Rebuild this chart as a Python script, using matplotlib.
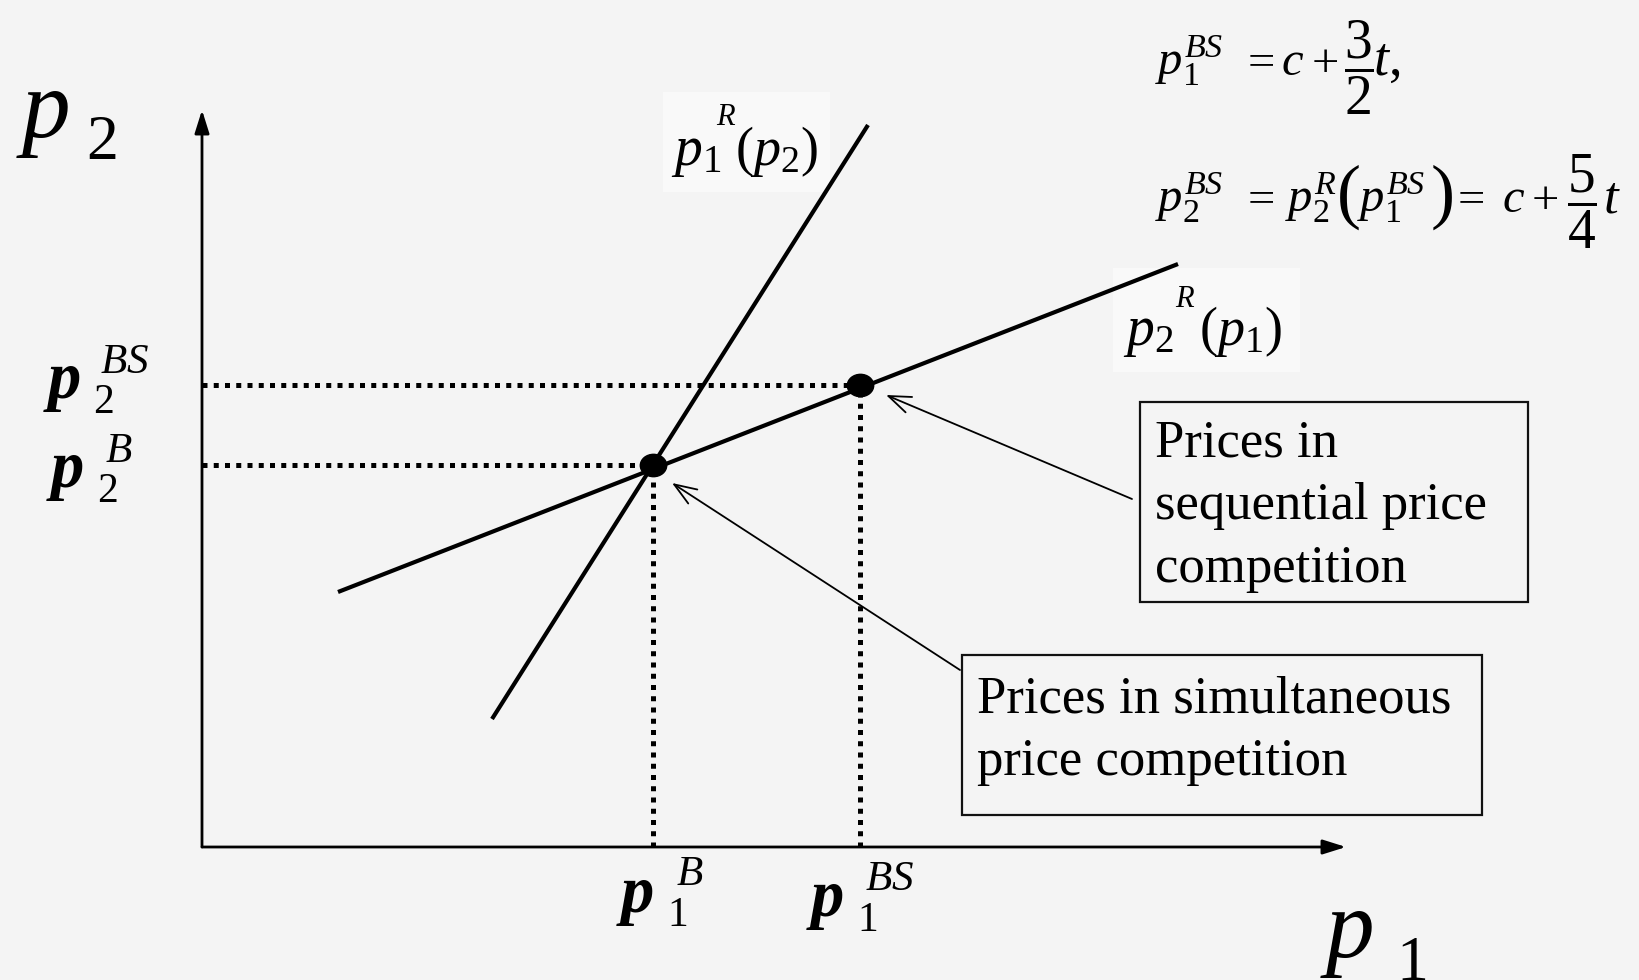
import matplotlib
matplotlib.use("Agg")
import matplotlib.pyplot as plt
from matplotlib.patches import Rectangle
from matplotlib.path import Path
from matplotlib.transforms import Affine2D

plt.rcParams['font.family'] = ['Liberation Serif', 'DejaVu Serif']
plt.rcParams['mathtext.fontset'] = 'custom'
plt.rcParams['mathtext.rm'] = 'Liberation Serif'
plt.rcParams['mathtext.it'] = 'Liberation Serif:italic'
plt.rcParams['mathtext.bf'] = 'Liberation Serif:bold:italic'

# ---------------- data (economic units) ----------------
p1_B, p2_B = 4.51, 3.82          # simultaneous (Bertrand) equilibrium
p1_BS, p2_BS = 6.58, 4.62        # sequential equilibrium
react1_p1 = [2.90, 6.66]          # p1^R(p2) end points
react1_p2 = [1.28, 7.22]
react2_p1 = [1.36, 9.76]          # p2^R(p1) end points
react2_p2 = [2.55, 5.83]
axis_p1_max = 11.44
axis_p2_max = 7.37

box_seq = ["Prices in", "sequential price", "competition"]
box_sim = ["Prices in simultaneous", "price competition"]

W, H = 1639, 980
BG = '#f4f4f4'

fig = plt.figure(figsize=(W / 100, H / 100), dpi=100, facecolor=BG)
ax = fig.add_axes([0, 0, 1, 1])
ax.set_xlim(-2.02, 14.37)
ax.set_ylim(-1.33, 8.47)
ax.axis('off')


def fxy(px, py):
    return (px / W, 1 - py / H)


def put(px, py, s, size, **kw):
    kw.setdefault('va', 'baseline')
    return fig.text(*fxy(px, py), s, fontsize=size, **kw)


# axes with arrows
arr = dict(arrowstyle='-|>,head_length=0.7,head_width=0.22', lw=2.0,
           color='black', shrinkA=0, shrinkB=0, mutation_scale=20)
ax.annotate('', xy=(0, axis_p2_max), xytext=(0, 0), arrowprops=arr)
ax.annotate('', xy=(axis_p1_max, 0), xytext=(0, 0), arrowprops=arr)

# label background panels (under the lines)
ax.add_patch(Rectangle(fxy(663, 192), 167 / W, 100 / H, transform=fig.transFigure,
                       facecolor='#f9f9f9', edgecolor='none', zorder=0.5))
ax.add_patch(Rectangle(fxy(1113, 372), 187 / W, 104 / H, transform=fig.transFigure,
                       facecolor='#f9f9f9', edgecolor='none', zorder=0.5))

# reaction functions
ax.plot(react1_p1, react1_p2, color='black', lw=3.0, solid_capstyle='butt', zorder=2)
ax.plot(react2_p1, react2_p2, color='black', lw=3.0, solid_capstyle='butt', zorder=2)

# dotted guide lines
dot = dict(color='black', lw=3.6, ls=(0, (1, 1.25)), dash_capstyle='butt')
ax.plot([0, p1_B], [p2_B, p2_B], **dot)
ax.plot([p1_B, p1_B], [0, p2_B], **dot)
ax.plot([0, p1_BS], [p2_BS, p2_BS], **dot)
ax.plot([p1_BS, p1_BS], [0, p2_BS], **dot)

# equilibrium points (slightly elliptical)
ell = Path.unit_circle().transformed(Affine2D().scale(1.18, 1.0))
ax.plot([p1_B, p1_BS], [p2_B, p2_BS], ls='none', marker=ell,
        markersize=19, color='black', zorder=5)

# ---------------- axis labels ----------------
put(16, 137, r'$p$', 70)
put(86, 159, '2', 46)
put(1320, 957, r'$p$', 70)
put(1396, 980, '1', 46)


def tick_label(px, py, sub, sup, sub_xy, sup_xy):
    put(px, py, r'$\mathbf{p}$', 48)
    put(sub_xy[0], sub_xy[1], sub, 30)
    put(sup_xy[0], sup_xy[1], r'$%s$' % sup, 31)


tick_label(43, 398, '2', 'BS', (93, 413), (100, 373))
tick_label(46, 487, '2', 'B', (97, 502), (105, 462))
tick_label(616, 912, '1', 'B', (667, 926), (676, 885))
tick_label(806, 916, '1', 'BS', (857, 931), (865, 890))

# ---------------- reaction function labels ----------------
put(671, 165, r'$p_1$', 40)
put(716, 125, r'$R$', 22)
put(735, 165, r'$(p_2)$', 39)

put(1123, 345, r'$p_2$', 40)
put(1175, 307, r'$R$', 22)
put(1199, 345, r'$(p_1)$', 39)

# ---------------- equations ----------------
EQ, FR = 35, 40
# line 1
put(1155, 75, r'$p_1^{BS}$', EQ)
put(1240, 75, r'$=$', EQ)
put(1281, 75, r'$c$', EQ)
put(1311, 75, r'$+$', EQ)
put(1344, 86, r'$\dfrac{3}{2}$', FR)
put(1373, 75, r'$t,$', EQ + 4)
# line 2
put(1155, 212, r'$p_2^{BS}$', EQ)
put(1240, 212, r'$=$', EQ)
put(1285, 212, r'$p_2^{R}$', EQ)
put(1336, 215, r'$($', 52)
put(1357, 212, r'$p_1^{BS}$', EQ)
put(1430, 215, r'$)$', 52)
put(1450, 212, r'$=$', EQ)
put(1502, 212, r'$c$', EQ)
put(1531, 212, r'$+$', EQ)
put(1567, 220, r'$\dfrac{5}{4}$', FR)
put(1603, 212, r'$t$', EQ + 3)

# ---------------- annotation boxes ----------------
fig.add_artist(Rectangle(fxy(1140, 602), 388 / W, 200 / H, transform=fig.transFigure,
                         fill=False, edgecolor='#111111', lw=1.6))
for i, line in enumerate(box_seq):
    put(1155, 456 + 63 * i, line, 38)

fig.add_artist(Rectangle(fxy(962, 815), 520 / W, 160 / H, transform=fig.transFigure,
                         fill=False, edgecolor='#111111', lw=1.6))
for i, line in enumerate(box_sim):
    put(977, 712 + 63 * i, line, 38)

thin = dict(arrowstyle='->,head_length=0.8,head_width=0.3', lw=1.3, color='black',
            shrinkA=0, shrinkB=0, mutation_scale=20)
ax.annotate('', xy=fxy(886, 395), xycoords='figure fraction',
            xytext=fxy(1132, 499), textcoords='figure fraction', arrowprops=thin)
ax.annotate('', xy=fxy(672, 483), xycoords='figure fraction',
            xytext=fxy(960, 670), textcoords='figure fraction', arrowprops=thin)

fig.savefig('out.png', dpi=100, facecolor=BG)
